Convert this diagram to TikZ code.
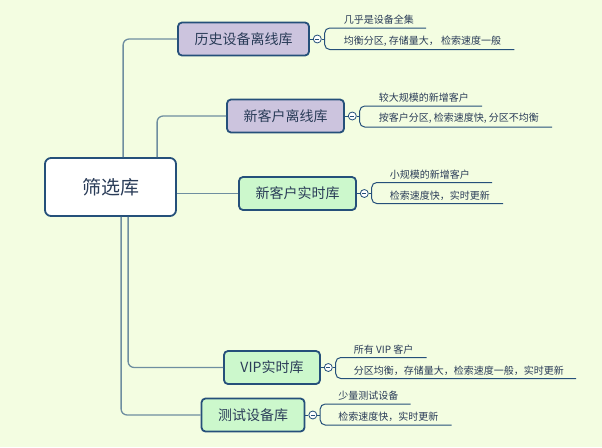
\documentclass[tikz,border=0pt]{standalone}
\usepackage{fontspec}
\setmainfont{Noto Sans CJK SC}
\usetikzlibrary{positioning}
\definecolor{bgcol}{RGB}{243,253,225}
\definecolor{boxline}{RGB}{37,80,122}
\definecolor{branchcol}{RGB}{110,142,160}
\definecolor{lavender}{RGB}{204,196,222}
\definecolor{mint}{RGB}{204,248,204}
\definecolor{txt}{RGB}{42,60,88}

\begin{document}
\begin{tikzpicture}[x=1pt, y=-1pt,
    topic/.style={draw=boxline, line width=1.8pt, rounded corners=4pt, inner xsep=16.5pt, minimum height=33pt, font=\fontsize{14}{14}\selectfont, text=txt},
    offline/.style={topic, fill=lavender},
    online/.style={topic, fill=mint},
    branch/.style={draw=branchcol, line width=1.3pt, rounded corners=6pt},
    fold/.style={circle, draw=boxline, fill=white, line width=0.8pt, inner sep=0pt, minimum size=8pt,
      path picture={\draw[boxline, line width=0.8pt] ([xshift=-2pt]path picture bounding box.center) -- ([xshift=2pt]path picture bounding box.center);}},
    uline/.style={draw=boxline, line width=1pt, rounded corners=5pt},
    note/.style={anchor=south west, inner xsep=0pt, inner ysep=3pt, font=\fontsize{10}{10}\selectfont, text=txt}]
      \useasboundingbox[fill=bgcol] (0,0) rectangle (602,447);

      % main topics
      \node[topic, fill=white, minimum width=131pt, minimum height=58pt, rounded corners=6pt, font=\fontsize{19}{19}\selectfont] (root) at (110.5,187) {筛选库};
      \node[offline] (hist) at (243.5,39) {历史设备离线库};
      \node[offline] (newoff) at (285.5,116) {新客户离线库};
      \node[online] (newrt) at (297.5,193.5) {新客户实时库};
      \node[online] (vip) at (272,367.5) {VIP实时库};
      \node[online] (test) at (253,415) {测试设备库};

      \draw[branch] ([xshift=79pt]root.north west) |- (hist.west);
      \draw[branch] ([xshift=113pt]root.north west) |- (newoff.west);
      \draw[branch] (newrt.west -| root.east) -- (newrt.west);
      \draw[branch] ([xshift=84pt]root.south west) |- (vip.west);
      \draw[branch] ([xshift=77pt]root.south west) |- (test.west);

      % fold marks
      \node[fold, right=3pt of hist] (histf) {};
      \node[fold, right=3pt of newoff] (newofff) {};
      \node[fold, right=3pt of newrt] (newrtf) {};
      \node[fold, right=3pt of vip] (vipf) {};
      \node[fold, right=3pt of test] (testf) {};

      \draw[uline] (hist) -- (histf);
      \draw[uline] (newoff) -- (newofff);
      \draw[uline] (newrt) -- (newrtf);
      \draw[uline] (vip) -- (vipf);
      \draw[uline] (test) -- (testf);

      % notes
      \node[note] (hista) at ([shift={(22,-11)}]histf.east) {几乎是设备全集};
      \node[note] (histb) at ([shift={(22,10.5)}]histf.east) {均衡分区, 存储量大， 检索速度一般};
      \draw[uline] ([xshift=12pt]hista.south east) -| ([xshift=3pt]histf.east) |- ([xshift=13pt]histb.south east);
      \draw[uline] (histf) -- ([xshift=3pt]histf.east);

      \node[note] (newoffa) at ([shift={(22,-10)}]newofff.east) {较大规模的新增客户};
      \node[note] (newoffb) at ([shift={(22,11)}]newofff.east) {按客户分区, 检索速度快, 分区不均衡};
      \draw[uline] ([xshift=13pt]newoffa.south east) -| ([xshift=3pt]newofff.east) |- ([xshift=13pt]newoffb.south east);
      \draw[uline] (newofff) -- ([xshift=3pt]newofff.east);

      \node[note] (newrta) at ([shift={(21,-11)}]newrtf.east) {小规模的新增客户};
      \node[note] (newrtb) at ([shift={(21,10)}]newrtf.east) {检索速度快，实时更新};
      \draw[uline] ([xshift=22pt]newrta.south east) -| ([xshift=3pt]newrtf.east) |- ([xshift=13pt]newrtb.south east);
      \draw[uline] (newrtf) -- ([xshift=3pt]newrtf.east);

      \node[note] (vipa) at ([shift={(21,-10)}]vipf.east) {所有 VIP 客户};
      \node[note] (vipb) at ([shift={(21,11)}]vipf.east) {分区均衡，存储量大，检索速度一般，实时更新};
      \draw[uline] ([xshift=13pt]vipa.south east) -| ([xshift=3pt]vipf.east) |- ([xshift=12pt]vipb.south east);
      \draw[uline] (vipf) -- ([xshift=3pt]vipf.east);

      \node[note] (testa) at ([shift={(21,-11)}]testf.east) {少量测试设备};
      \node[note] (testb) at ([shift={(21,10)}]testf.east) {检索速度快，实时更新};
      \draw[uline] ([xshift=12pt]testa.south east) -| ([xshift=3pt]testf.east) |- ([xshift=13pt]testb.south east);
      \draw[uline] (testf) -- ([xshift=3pt]testf.east);
    \end{tikzpicture}
\end{document}
